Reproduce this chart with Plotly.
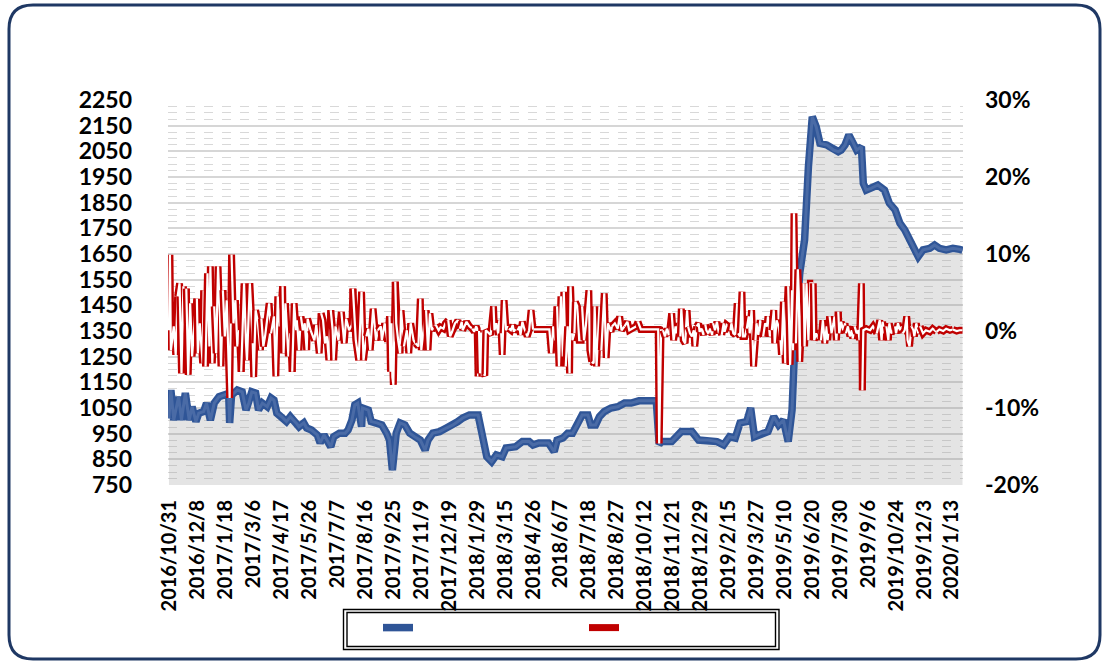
import plotly.graph_objects as go

# ---------------- data ----------------
tick_labels = ["2016/10/31", "2016/12/8", "2017/1/18", "2017/3/6", "2017/4/17",
               "2017/5/26", "2017/7/7", "2017/8/16", "2017/9/25", "2017/11/9",
               "2017/12/19", "2018/1/29", "2018/3/15", "2018/4/26", "2018/6/7",
               "2018/7/18", "2018/8/27", "2018/10/12", "2018/11/21", "2018/12/29",
               "2019/2/15", "2019/3/27", "2019/5/10", "2019/6/20", "2019/7/30",
               "2019/9/6", "2019/10/24", "2019/12/3", "2020/1/13"]

price_day = [0, 2, 5, 10, 13, 17, 21, 24, 28, 31,
             36, 39, 43, 47, 52, 57, 62, 63, 64, 65,
             71, 76, 80, 83, 86, 90, 93, 97, 102, 106,
             109, 112, 117, 122, 126, 132, 135, 140, 143, 148,
             154, 157, 161, 164, 168, 171, 177, 183, 186, 190,
             193, 196, 200, 201, 207, 210, 216, 221, 226, 229,
             232, 236, 240, 245, 250, 255, 261, 266, 269, 274,
             281, 288, 295, 300, 305, 312, 321, 325, 330, 335,
             340, 346, 350, 360, 367, 374, 378, 384, 394, 400,
             403, 409, 414, 419, 424, 429, 435, 438, 443, 447,
             452, 459, 466, 473, 480, 488, 506, 509, 512, 522,
             532, 543, 550, 560, 569, 576, 582, 588, 593, 600,
             604, 608, 615, 622, 628, 633, 638, 643, 647, 650,
             655, 660, 664, 668, 672, 676, 683, 690, 695, 698,
             702, 706, 710, 714, 719, 721, 724, 729, 736, 743,
             748, 754, 759, 764, 769, 774, 778, 783, 790, 795,
             800, 807, 814, 821, 824]
price = [1010, 1120, 1003, 1094, 1003, 1108, 1003, 1055, 997, 1030,
         1036, 1069, 1003, 1069, 1094, 1100, 1107, 992, 1100, 1100,
         1120, 1113, 1042, 1069, 1113, 1108, 1042, 1069, 1055, 1089,
         1081, 1030, 1016, 997, 1016, 992, 977, 992, 972, 964,
         945, 914, 945, 925, 899, 938, 952, 952, 964, 1003,
         1062, 1069, 977, 1050, 1042, 997, 992, 984, 952, 925,
         808, 952, 992, 984, 952, 938, 925, 886, 925, 952,
         958, 972, 984, 997, 1011, 1023, 1023, 952, 860, 841,
         867, 860, 894, 899, 919, 919, 906, 914, 914, 880,
         925, 933, 952, 952, 984, 1023, 1023, 984, 984, 1016,
         1036, 1050, 1055, 1069, 1069, 1078, 1078, 910, 919, 919,
         958, 958, 925, 925, 919, 906, 938, 933, 992, 997,
         1050, 938, 952, 958, 1016, 984, 1003, 919, 1042, 1315,
         1576, 1705, 1990, 2185, 2146, 2081, 2075, 2055, 2049, 2055,
         2075, 2114, 2088, 2055, 2068, 1925, 1899, 1906, 1919, 1899,
         1848, 1822, 1770, 1744, 1705, 1666, 1640, 1666, 1672, 1685,
         1672, 1666, 1672, 1668, 1665]

ret_day = [0, 1, 2, 5, 7, 9, 11, 13, 15, 17,
           18, 20, 22, 24, 27, 29, 30, 32, 35, 36,
           38, 40, 42, 43, 45, 47, 49, 51, 53, 54,
           56, 58, 60, 62, 63, 65, 67, 69, 71, 73,
           75, 78, 80, 81, 84, 87, 88, 90, 92, 95,
           96, 98, 100, 102, 104, 106, 109, 111, 113, 115,
           118, 119, 121, 124, 126, 128, 130, 132, 133, 135,
           137, 139, 141, 143, 144, 147, 149, 151, 153, 156,
           158, 160, 162, 164, 166, 168, 170, 171,
           173, 176, 179, 182, 184, 187, 190, 191, 194, 197,
           200, 202, 205, 207, 209, 212, 215, 217, 220, 221,
           224, 227, 229, 230, 231, 232, 233, 235, 236, 238,
           240, 241, 244, 247, 249, 251, 254, 256, 259, 261,
           262, 265, 267, 269, 271, 273, 274, 277, 280, 282,
           285, 287, 290, 292, 294, 297, 300, 302, 304, 305,
           309, 312, 315, 317, 319, 320, 321, 322, 323, 324,
           325, 326, 327, 328, 329, 331, 334, 337, 338, 340,
           342,
           343, 345, 346, 348, 350, 352, 353, 355, 357, 358,
           360, 362, 364, 365, 367, 369, 371, 372, 374, 376,
           378, 379, 395, 397, 399, 401, 403, 405, 407, 409,
           410, 412, 414, 416, 417, 419, 421, 422, 424, 426,
           428, 429, 431, 433, 436, 437, 439, 441, 442, 444,
           447, 449, 452, 454, 456, 459, 460, 463, 466, 468,
           470, 473, 476, 478, 481, 485, 487, 490, 508, 509,
           511,
           513, 515, 517, 519, 520, 522, 524, 526, 527, 529,
           531, 532, 534, 536, 538, 539, 541, 543, 545, 546,
           548, 550, 551, 553, 555, 557, 558, 560, 562, 564,
           565, 567, 569, 571, 572, 574, 576, 577, 579, 581,
           583, 584, 586, 588, 590, 591, 593, 595, 596, 598,
           600, 602, 603, 605, 607, 609, 610, 612, 614, 615,
           617, 619, 621, 622, 624, 626, 628, 629, 631, 633,
           635, 636, 638, 640, 641, 643, 645, 647, 648, 649,
           651, 653, 654, 655, 657, 659, 660, 662, 664, 666,
           669, 670,
           672, 674, 676, 677, 679, 681, 683, 684, 686, 688,
           690, 691, 693, 695, 696, 698, 700, 702, 703, 705,
           707, 709, 710, 712, 714, 716, 717, 719, 720, 721,
           724, 728, 731, 735, 738, 740, 741, 743, 745, 747,
           748, 750, 752, 754, 755, 757, 759, 761, 762, 764,
           766, 767, 769, 771, 773, 774, 776, 778, 780, 783,
           786, 790, 793, 797, 800, 804, 807, 811, 814, 818,
           821, 824]
ret_pct = [0.1, 9.9, -2.5, 0.6, -3.1, 4.5, 6.2, -5.5, 5.8, -1.2,
           5.5, -5.7, 3.6, -3.3, 1.9, 4.2, -2.9, 1.0, -4.2, 5.3,
           -4.6, 7.5, -2.0, 8.4, -4.2, 3.2, -2.9, 8.4, 1.9, -4.6,
           5.3, -0.7, 4.0, -3.8, -8.7, 9.9, 1.0, 4.0, -2.0, 0.1,
           -5.3, 6.2, -1.6, -3.8, 6.2, -1.6, -6.0, 2.7, 1.4, -2.5,
           1.6, -2.0, -0.5, 1.4, 3.6, -0.3, 1.9, -5.9, 4.5, 0.6,
           5.8, -2.9, 3.6, -3.3, -0.3, -5.3, 3.6, 0.1, 1.4, -2.5,
           1.9, 0.1, 1.0, -2.5, 1.6, 0.1, -0.7, -1.2, 0.8, -2.9,
           2.3, 1.4, -1.6, -0.7, -3.8, 2.7, 0.1, -3.8,
           0.6, -1.2, 2.5, -1.6, 1.6, 0.1, 0.8, 5.5, -1.2, -3.8,
           5.1, -3.8, -0.7, 0.3, -2.5, 2.9, -1.2, 0.1, 0.6, -1.2,
           1.0, -1.4, 1.9, -5.3, 1.0, -6.0, -7.0, 6.4, 1.0, -1.2,
           -2.9, 2.7, -2.0, 0.1, -2.9, 1.0, -1.2, -1.6, -2.0, 4.2,
           -2.5, 1.0, 2.7, -2.5, 2.3, 0.1, 0.3, 0.8, 0.1, 0.5,
           0.3, 1.0, 1.4, -0.7, -0.1, 1.0, 1.4, 0.3, 1.2, 0.1,
           1.2, 0.6, 0.3, -0.1, 0.6, 0.3, -5.9, 0.0, -5.5, -0.2,
           -5.9, 0.1, -5.6, -5.8, 0.1, -0.1, -0.5, 3.2, 0.1, 1.0,
           -0.5,
           1.4, -0.3, -3.1, 4.0, 0.1, 0.6, 0.3, 0.1, 0.8, -0.1,
           0.3, 0.1, 0.6, -0.5, 1.2, 0.3, -0.3, -0.7, 0.1, 2.7,
           0.3, 0.2, 0.2, -2.9, 0.6, -1.2, 3.2, -4.6, 4.5, -3.3,
           5.1, -4.6, 0.6, -5.5, 5.8, -1.2, -0.3, 3.8, 3.2, -1.2,
           -1.2, 3.2, -1.2, 0.8, 5.3, -2.5, -4.0, -4.2, 3.2, -4.6,
           3.2, -2.5, 4.9, -3.5, 1.0, -0.1, 0.6, 1.0, 0.3, 1.9,
           0.1, 0.6, 1.2, 0.1, 0.3, 0.6, 1.2, 0.2, 0.2, -14.6,
           0.1,
           0.1, -0.7, 0.3, -0.5, 0.1, 2.3, -1.2, 0.6, -0.3, 1.0,
           -0.7, 2.9, -1.2, -1.6, 2.7, 0.6, -0.3, -0.7, 0.1, -2.0,
           0.6, 1.0, -0.1, 0.3, -0.5, 0.8, 0.1, -0.3, 0.3, -0.5,
           1.0, 0.1, 1.2, -0.3, 0.3, -0.5, 1.0, -0.1, 0.8, 0.6,
           0.1, 1.0, -0.3, -0.5, 3.6, -0.3, -0.7, 5.1, -0.7, -0.7,
           0.3, 1.9, -0.3, 2.7, -4.6, -1.2, 1.0, -0.5, 1.4, -0.1,
           -0.7, 1.0, 0.6, 1.9, -0.7, 0.1, 2.7, -1.6, 1.4, 0.6,
           -1.2, -3.1, 3.8, -4.2, 1.4, 5.8, -4.4, 5.3, -2.5, 15.3,
           -1.6, 8.0, 4.9, -4.0, 3.2, 6.2, -2.0, 6.2, -1.2, 6.2,
           6.2, -1.2,
           -0.3, -1.0, 0.1, -1.2, 1.4, -1.6, 0.6, -1.2, 1.9, -0.3,
           1.0, 1.9, -1.2, 2.5, -0.3, 1.2, 0.1, 1.0, -0.3, 0.6,
           -0.7, 0.1, -1.0, 0.6, -0.3, 0.1, -1.2, 6.2, -7.7, 0.1,
           0.3, 0.1, 0.6, -0.3, 1.4, -1.2, 1.2, -0.3, 0.6, -1.2,
           1.0, -0.3, 0.1, 0.6, -0.3, 1.0, 0.1, 0.6, -0.3, 0.1,
           1.9, -1.2, -2.0, 0.6, 0.1, -0.7, 1.0, -0.3, 0.6, -0.3,
           0.1, -0.1, 0.3, -0.1, 0.2, 0.0, 0.3, 0.1, 0.2, 0.0,
           0.1, 0.1]

pct_ticks = [-20, -10, 0, 10, 20, 30]

# ---------------- geometry helpers ----------------
W, H = 1107, 661
L, R, T, B = 168, 963, 100, 485


def px(xp):
    return (xp - L) / (R - L)


def py(yp):
    return (B - yp) / (B - T)


FONT = "Lato"
RED, BLUE = "#C00000", "#2F5597"

fig = go.Figure()

# grey area under the price line
fig.add_trace(go.Scatter(x=price_day, y=price, mode="lines", fill="tozeroy",
                         fillcolor="rgba(150,150,150,0.26)", line=dict(width=0),
                         showlegend=False, hoverinfo="skip"))
# price line (blue)
fig.add_trace(go.Scatter(x=price_day, y=price, mode="lines", name=" ",
                         line=dict(color=BLUE, width=7.5)))
fig.add_trace(go.Scatter(x=price_day, y=price, mode="lines", showlegend=False,
                         line=dict(color="#4A6BA6", width=3), hoverinfo="skip"))

# return line: compound red/white stroke, drawn piece by piece so that later
# pieces cover earlier ones (like a double-line stroke)
STEP = 5
n = len(ret_day)
first = True
for s in range(0, n - 1, STEP):
    e = min(s + STEP + 1, n)
    xs, ys = ret_day[s:e], ret_pct[s:e]
    fig.add_trace(go.Scatter(x=xs, y=ys, yaxis="y2", mode="lines", name=" ",
                             legendgroup="ret", showlegend=first,
                             line=dict(color=RED, width=7), hoverinfo="skip"))
    fig.add_trace(go.Scatter(x=xs, y=ys, yaxis="y2", mode="lines", showlegend=False,
                             legendgroup="ret",
                             line=dict(color="white", width=2.2), hoverinfo="skip"))
    first = False

ytickfont = dict(family=FONT, size=23, color="black", weight="bold")

fig.update_layout(
    width=W, height=H, autosize=False,
    margin=dict(l=L, r=W - R, t=T, b=H - B),
    paper_bgcolor="white", plot_bgcolor="white",
    xaxis=dict(range=[-1, 824.5], tickmode="array",
               tickvals=[1 + 29 * k for k in range(len(tick_labels))],
               ticktext=tick_labels, tickangle=-90,
               tickfont=dict(family=FONT, size=20, color="black", weight="bold"),
               showgrid=False, zeroline=False, showline=False, ticks="",
               ticklabelstandoff=10),
    yaxis=dict(range=[750, 2250], tick0=750, dtick=100, tickfont=ytickfont,
               showgrid=True, gridcolor="#d6d6d6", gridwidth=1.6,
               zeroline=False, showline=False, ticks="", ticklabelstandoff=35,
               minor=dict(tick0=750, dtick=25, showgrid=True, gridcolor="#d8d8d8",
                          gridwidth=1.3, griddash="dash")),
    yaxis2=dict(range=[-20, 30], overlaying="y", side="right", tickmode="array",
                tickvals=pct_ticks, ticktext=[f"{v}%" for v in pct_ticks],
                tickfont=ytickfont, showgrid=False, zeroline=False, showline=False,
                ticks="", ticklabelstandoff=21),
    legend=dict(orientation="h", x=px(378), y=py(612), xanchor="left", yanchor="top",
                bgcolor="rgba(0,0,0,0)", entrywidth=161, entrywidthmode="pixels",
                font=dict(family=FONT, size=14)),
)

# legend double border
fig.add_shape(type="rect", xref="paper", yref="paper",
              x0=px(343.5), x1=px(779), y0=py(649.5), y1=py(609.5),
              line=dict(color="black", width=1.4))
fig.add_shape(type="rect", xref="paper", yref="paper",
              x0=px(347), x1=px(775.5), y0=py(646.5), y1=py(612.5),
              line=dict(color="black", width=1.4))

# outer rounded frame
fx0, fy0, fx1, fy1, rr = 9, 5, 1100, 659, 24
path = (f"M {px(fx0 + rr)},{py(fy0)} L {px(fx1 - rr)},{py(fy0)} "
        f"Q {px(fx1)},{py(fy0)} {px(fx1)},{py(fy0 + rr)} "
        f"L {px(fx1)},{py(fy1 - rr)} Q {px(fx1)},{py(fy1)} {px(fx1 - rr)},{py(fy1)} "
        f"L {px(fx0 + rr)},{py(fy1)} Q {px(fx0)},{py(fy1)} {px(fx0)},{py(fy1 - rr)} "
        f"L {px(fx0)},{py(fy0 + rr)} Q {px(fx0)},{py(fy0)} {px(fx0 + rr)},{py(fy0)} Z")
fig.add_shape(type="path", xref="paper", yref="paper", path=path,
              line=dict(color="#1F3864", width=3))

fig.write_html("out.html", config={"displayModeBar": False},
               post_script="document.body.style.margin='0';document.body.style.overflow='hidden';")
